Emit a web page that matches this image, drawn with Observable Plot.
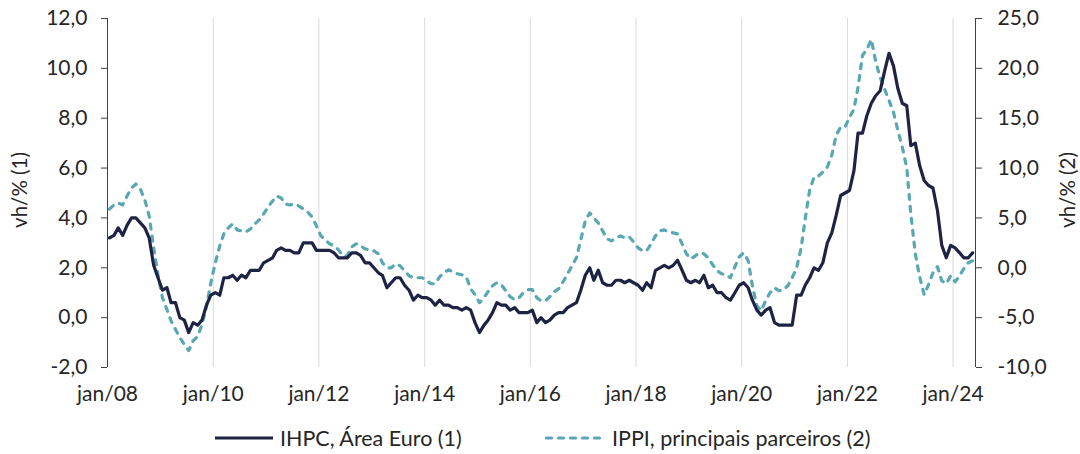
<!DOCTYPE html>
<html><head><meta charset="utf-8">
<script src="https://cdn.jsdelivr.net/npm/d3@7"></script>
<script src="https://cdn.jsdelivr.net/npm/@observablehq/plot@0.6"></script>
<style>
html,body{margin:0;padding:0;background:#fff;}
#wrap{position:relative;width:1080px;height:454px;font-family:Lato,"Open Sans",sans-serif;color:#262626;overflow:hidden;background:#fff;}
#wrap > svg{position:absolute;left:0;top:0;}
.ytitle{position:absolute;font-size:20.5px;white-space:nowrap;transform:translate(-50%,-50%) rotate(-90deg);}
.item{position:absolute;top:425px;height:26px;display:flex;align-items:center;white-space:nowrap;font-size:21.5px;}
.item svg{margin-right:7px;display:block;}
</style></head>
<body>
<div id="wrap"></div>
<script>
// ---- data (monthly, jan/08 .. mai/24) ----
const startYear = 2008;
const ihpc = [
 3.2, 3.3, 3.6, 3.3, 3.7, 4.0, 4.0, 3.8, 3.6, 3.2, 2.1, 1.6,
 1.1, 1.2, 0.6, 0.6, 0.0, -0.1, -0.6, -0.2, -0.3, -0.1, 0.5, 0.9,
 1.0, 0.9, 1.6, 1.6, 1.7, 1.5, 1.7, 1.6, 1.9, 1.9, 1.9, 2.2,
 2.3, 2.4, 2.7, 2.8, 2.7, 2.7, 2.6, 2.6, 3.0, 3.0, 3.0, 2.7,
 2.7, 2.7, 2.7, 2.6, 2.4, 2.4, 2.4, 2.6, 2.6, 2.5, 2.2, 2.2,
 2.0, 1.8, 1.7, 1.2, 1.4, 1.6, 1.6, 1.3, 1.1, 0.7, 0.9, 0.8,
 0.8, 0.7, 0.5, 0.7, 0.5, 0.5, 0.4, 0.4, 0.3, 0.4, 0.3, -0.2,
 -0.6, -0.3, -0.1, 0.2, 0.6, 0.5, 0.5, 0.3, 0.4, 0.2, 0.2, 0.2,
 0.3, -0.2, 0.0, -0.2, -0.1, 0.1, 0.2, 0.2, 0.4, 0.5, 0.6, 1.1,
 1.7, 2.0, 1.5, 1.9, 1.4, 1.3, 1.3, 1.5, 1.5, 1.4, 1.5, 1.4,
 1.3, 1.1, 1.4, 1.2, 1.9, 2.0, 2.1, 2.0, 2.1, 2.3, 1.9, 1.5,
 1.4, 1.5, 1.4, 1.7, 1.2, 1.3, 1.0, 1.0, 0.8, 0.7, 1.0, 1.3,
 1.4, 1.2, 0.7, 0.3, 0.1, 0.3, 0.4, -0.2, -0.3, -0.3, -0.3, -0.3,
 0.9, 0.9, 1.3, 1.6, 2.0, 1.9, 2.2, 3.0, 3.4, 4.1, 4.9, 5.0,
 5.1, 5.9, 7.4, 7.4, 8.1, 8.6, 8.9, 9.1, 9.9, 10.6, 10.1, 9.2,
 8.6, 8.5, 6.9, 7.0, 6.1, 5.5, 5.3, 5.2, 4.3, 2.9, 2.4, 2.9,
 2.8, 2.6, 2.4, 2.4, 2.6
];
const ippi = [
 5.9, 6.3, 6.5, 6.3, 7.2, 8.0, 8.4, 7.9, 6.8, 5.2, 2.0, -0.7,
 -3.0, -4.2, -5.3, -6.2, -7.0, -7.7, -8.3, -7.3, -6.9, -5.7, -3.9, -1.5,
 0.5, 2.2, 3.4, 4.0, 4.4, 3.8, 3.7, 3.6, 3.9, 4.4, 4.8, 5.4,
 6.1, 6.7, 7.2, 7.0, 6.4, 6.3, 6.4, 6.2, 5.9, 5.6, 5.1, 4.2,
 3.2, 2.8, 2.4, 2.2, 1.8, 1.2, 1.2, 2.1, 2.4, 2.2, 1.9, 1.8,
 1.7, 1.4, 0.5, 0.0, 0.0, 0.4, 0.2, -0.3, -0.8, -1.0, -1.0, -1.0,
 -1.3, -1.6, -1.6, -0.9, -0.5, -0.2, -0.4, -0.6, -0.7, -0.9, -2.1, -2.7,
 -3.5, -3.0, -2.4, -1.8, -1.5, -1.7, -2.3, -2.9, -3.2, -3.0, -2.5, -2.2,
 -2.2, -3.0, -3.3, -3.3, -2.9, -2.4, -2.1, -1.4, -0.6, 0.2, 1.0, 2.8,
 4.7, 5.5, 5.0, 4.5, 3.7, 2.9, 2.7, 3.0, 3.2, 3.0, 3.1, 2.6,
 2.0, 1.7, 1.7, 2.4, 3.2, 3.7, 3.8, 3.6, 3.5, 3.4, 2.4, 1.4,
 0.9, 1.2, 1.5, 1.4, 1.0, 0.3, -0.3, -0.6, -0.7, -1.0, 0.1, 1.1,
 1.5, 0.7, -1.8, -3.8, -4.3, -3.3, -2.5, -2.0, -2.3, -2.2, -1.8, -1.0,
 0.0, 2.0, 4.9, 7.8, 9.1, 9.2, 9.6, 10.1, 11.3, 13.3, 14.1, 14.1,
 15.1, 15.9, 18.1, 21.3, 21.9, 22.9, 20.7, 19.1, 17.9, 16.8, 15.6, 13.8,
 12.1, 10.0, 5.4, 1.4, -0.9, -2.7, -1.7, -0.5, 0.1, -1.3, -1.6, -0.8,
 -1.4, -0.8, -0.1, 0.5, 0.7
];
const xTickYears = [2008, 2010, 2012, 2014, 2016, 2018, 2020, 2022, 2024];
const xTickLabels = ["jan/08", "jan/10", "jan/12", "jan/14", "jan/16", "jan/18", "jan/20", "jan/22", "jan/24"];
const leftTicks = [-2, 0, 2, 4, 6, 8, 10, 12];
const rightTicks = [-10, -5, 0, 5, 10, 15, 20, 25];
const seriesNames = ["IHPC, Área Euro (1)", "IPPI, principais parceiros (2)"];
const axisTitles = ["vh/% (1)", "vh/% (2)"];

// ---- build ----
const NAVY = "#1e2243", TEAL = "#58a7b3", AXIS = "#404040";
const data = ihpc.map((v, i) => ({date: new Date(Date.UTC(startYear, i, 15)), ihpc: v, ippi: ippi[i]}));
// right axis (2) mapped onto left scale (1): left = 2 + 0.4 * right
const toLeft = r => 2 + 0.4 * r;
const fmt = v => v.toFixed(1).replace(".", ",");
const tickDates = xTickYears.map(y => new Date(Date.UTC(y, 0, 1)));
const xStart = new Date(Date.UTC(2008, 0, 1)), xEnd = new Date(Date.UTC(2024, 5, 4));

const chart = Plot.plot({
  width: 1080, height: 415,
  marginLeft: 107, marginRight: 105, marginTop: 18, marginBottom: 48,
  style: {fontFamily: "Lato, 'Open Sans', sans-serif", fontSize: "21px", color: "#262626", background: "transparent", overflow: "visible"},
  x: {type: "utc", domain: [xStart, xEnd]},
  y: {domain: [-2, 12]},
  marks: [
    Plot.ruleX(tickDates.slice(1), {stroke: "#d9d9d9", strokeWidth: 1}),
    Plot.axisX({ticks: tickDates, tickSize: 0, tickPadding: 19, label: null,
      tickFormat: d => xTickLabels[xTickYears.indexOf(d.getUTCFullYear())]}),
    Plot.axisY({anchor: "left", ticks: leftTicks, tickSize: 6, tickPadding: 14, label: null, stroke: AXIS, tickFormat: fmt}),
    Plot.axisY({anchor: "right", ticks: rightTicks.map(toLeft), tickSize: 6, tickPadding: 16, label: null, stroke: AXIS,
      tickFormat: v => fmt(rightTicks[leftTicks.indexOf(Math.round(v * 10) / 10)] ?? (v - 2) / 0.4)}),
    Plot.ruleX([xStart], {stroke: AXIS, strokeWidth: 1}),
    Plot.ruleX([xEnd], {stroke: AXIS, strokeWidth: 1}),
    Plot.line(data, {x: "date", y: d => toLeft(d.ippi), stroke: TEAL, strokeWidth: 3.2, strokeDasharray: "5,7", strokeLinecap: "round", strokeLinejoin: "round"}),
    Plot.line(data, {x: "date", y: "ihpc", stroke: NAVY, strokeWidth: 3.2, strokeLinejoin: "round"})
  ]
});

const wrap = document.getElementById("wrap");
wrap.appendChild(chart);

function addTitle(text, x, y) {
  const d = document.createElement("div");
  d.className = "ytitle"; d.textContent = text;
  d.style.left = x + "px"; d.style.top = y + "px";
  wrap.appendChild(d);
}
addTitle(axisTitles[0], 19, 190);
addTitle(axisTitles[1], 1067, 190);

function addItem(label, left, color, dashed, w) {
  const it = document.createElement("div");
  it.className = "item"; it.style.left = left + "px";
  const s = d3.create("svg").attr("width", w).attr("height", 10);
  s.append("line").attr("x1", dashed ? 1.5 : 0).attr("x2", dashed ? w - 1.5 : w).attr("y1", 5).attr("y2", 5)
    .attr("stroke", color).attr("stroke-width", 3.2)
    .attr("stroke-dasharray", dashed ? "5,7" : null).attr("stroke-linecap", dashed ? "round" : "butt");
  it.appendChild(s.node());
  const t = document.createElement("span"); t.textContent = label;
  it.appendChild(t);
  wrap.appendChild(it);
}
addItem(seriesNames[0], 215, NAVY, false, 58);
addItem(seriesNames[1], 545, TEAL, true, 60);
</script>
</body></html>
